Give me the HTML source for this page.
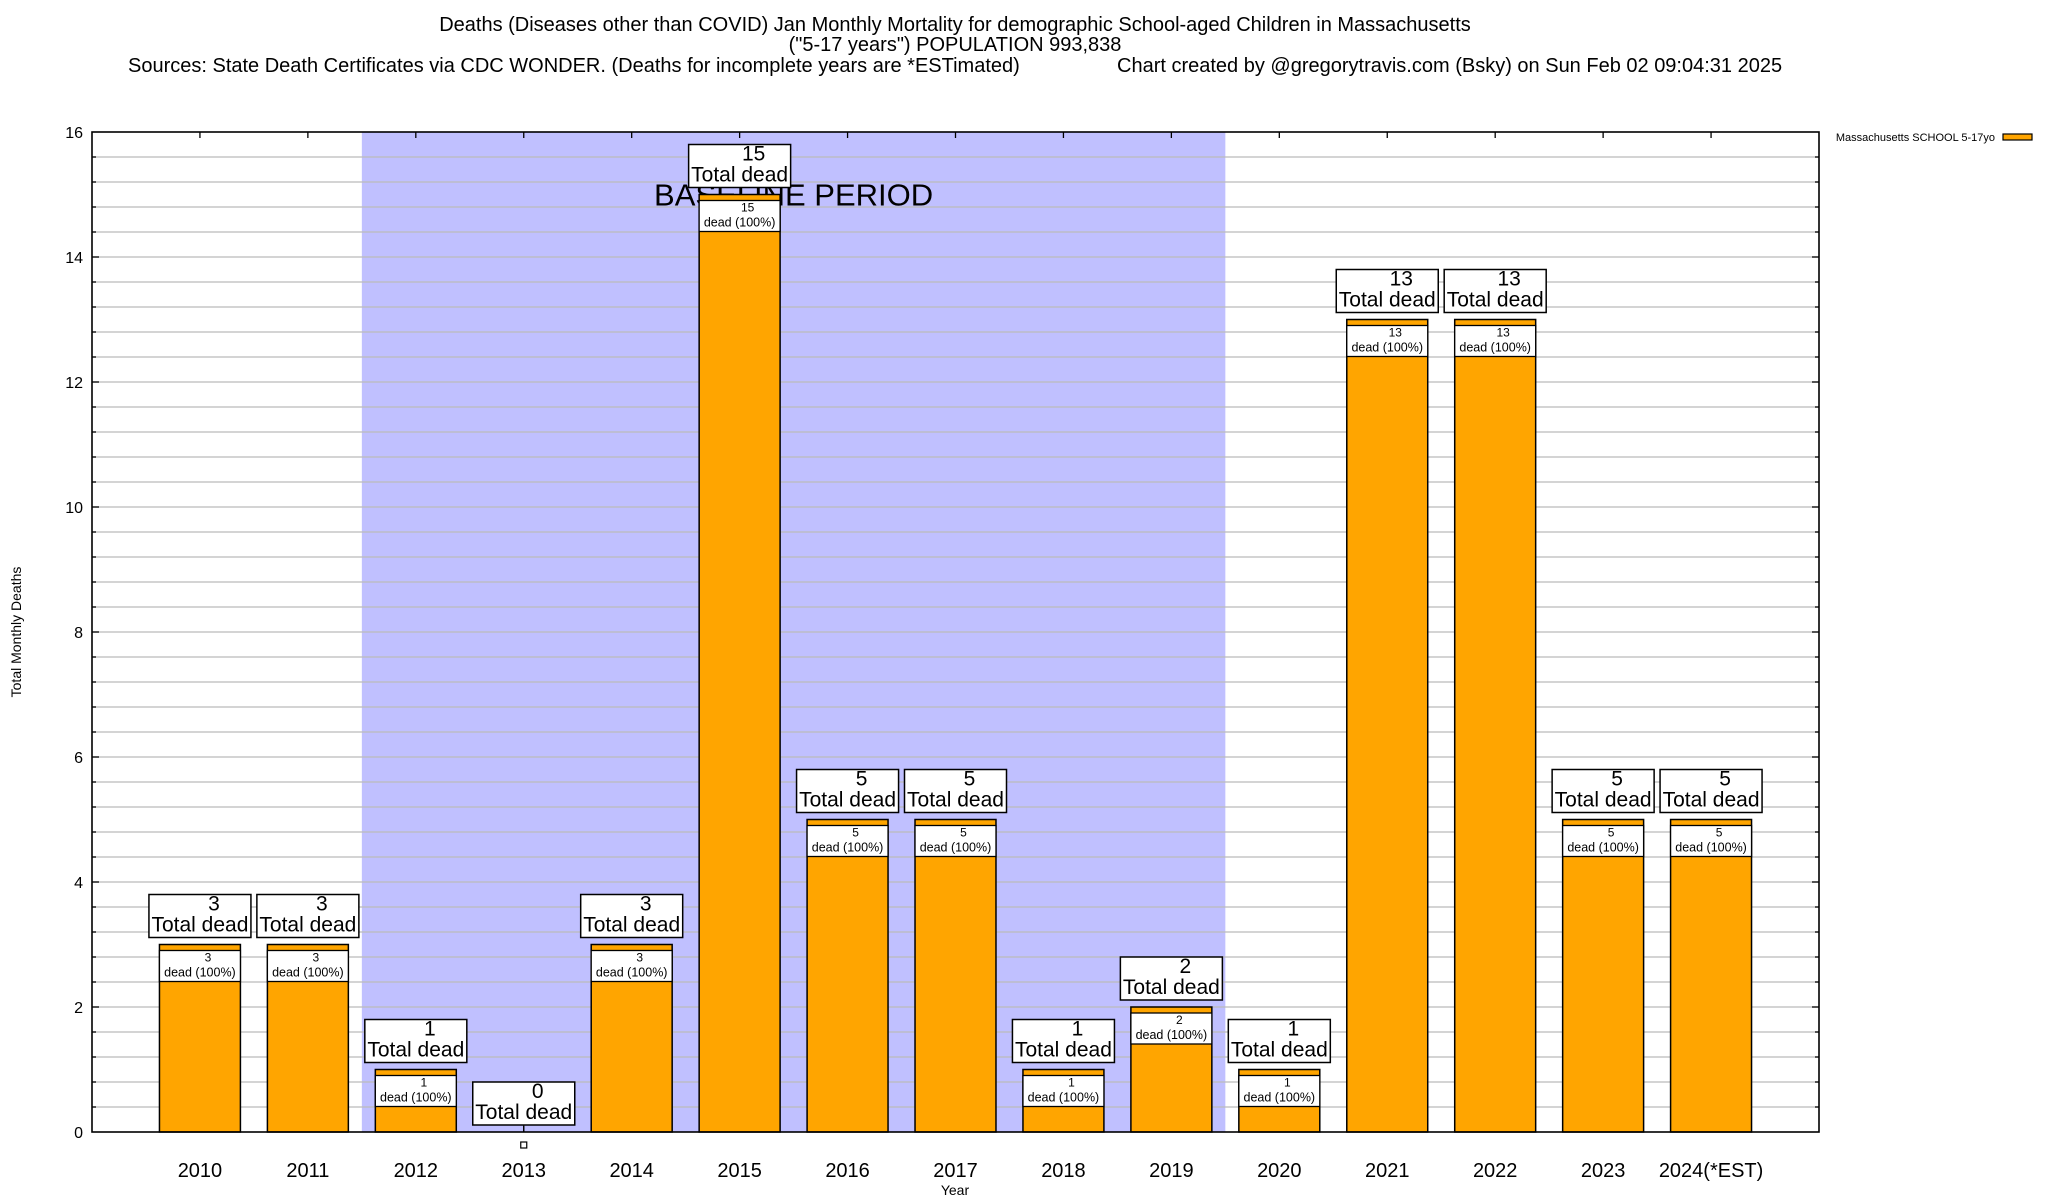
<!DOCTYPE html>
<html><head><meta charset="utf-8"><style>
html,body{margin:0;padding:0;background:#fff}
svg{display:block;font-family:"Liberation Sans",Arial,sans-serif}
</style></head><body>
<svg id="chart" width="2048" height="1200" viewBox="0 0 2048 1200">
<text x="955" y="31" font-size="20" text-anchor="middle">Deaths (Diseases other than COVID) Jan Monthly Mortality for demographic School-aged Children in Massachusetts</text>
<text x="955" y="51" font-size="20" text-anchor="middle">("5-17 years") POPULATION 993,838</text>
<text x="128" y="72" font-size="20">Sources: State Death Certificates via CDC WONDER. (Deaths for incomplete years are *ESTimated)</text>
<text x="1117" y="72" font-size="20">Chart created by @gregorytravis.com (Bsky) on Sun Feb 02 09:04:31 2025</text>
<g id="plot"></g>
<text x="1995" y="141" font-size="11" text-anchor="end">Massachusetts SCHOOL 5-17yo</text>
<rect x="2003" y="134" width="29" height="6" fill="#ffa500" stroke="#000" stroke-width="1.2"/>
<text transform="translate(21,632) rotate(-90)" font-size="14" text-anchor="middle">Total Monthly Deaths</text>
<text x="955" y="1195" font-size="14" text-anchor="middle">Year</text>
</svg>
<script>
const categories = ["2010","2011","2012","2013","2014","2015","2016","2017","2018","2019","2020","2021","2022","2023","2024(*EST)"];
const deaths = [3,3,1,0,3,15,5,5,1,2,1,13,13,5,5];
const yTicks = [0,2,4,6,8,10,12,14,16];
const baselineStart = 2.5, baselineEnd = 10.5;

const L=92,R=1819,T=132,B=1132;
const X0=0,X1=16,Y0=0,Y1=16;
const sx=v=>L+(v-X0)/(X1-X0)*(R-L);
const sy=v=>B-(v-Y0)/(Y1-Y0)*(B-T);
const NS="http://www.w3.org/2000/svg";
const g=document.getElementById('plot');
function mk(tag,attrs,parent){const e=document.createElementNS(NS,tag);for(const k in attrs)e.setAttribute(k,attrs[k]);(parent||g).appendChild(e);return e;}

// baseline region
let bl=mk('rect',{x:sx(baselineStart),y:T,width:sx(baselineEnd)-sx(baselineStart),height:B-T,fill:'#c0c0ff'});



// gridlines every 0.4
for(let k=1;k<40;k++){
  const v=k*0.4, y=sy(v);
  let gl=mk('line',{x1:L,x2:R,y1:y,y2:y,stroke:'#bbb','stroke-width':1.3});
  
  
  const len=(Math.abs(v/2-Math.round(v/2))<1e-6)?7:4;
  mk('line',{x1:L,x2:L+len,y1:y,y2:y,stroke:'#000','stroke-width':1.3});
  mk('line',{x1:R,x2:R-len,y1:y,y2:y,stroke:'#000','stroke-width':1.3});
}
// y tick labels
yTicks.forEach(v=>{
  let t=mk('text',{x:83,y:sy(v)+6,'font-size':16,'text-anchor':'end'});
  t.textContent=v;
  
  
});
// baseline label
let btx=mk('text',{x:sx(6.5),y:sy(15)+11,'font-size':31,'text-anchor':'middle'});
btx.textContent='BASELINE PERIOD';



const bw=0.75;
categories.forEach((c,i)=>{
  const xc=sx(i+1), v=deaths[i];
  // ticks top/bottom
  mk('line',{x1:xc,x2:xc,y1:T,y2:T+6,stroke:'#000','stroke-width':1.3});
  mk('line',{x1:xc,x2:xc,y1:B,y2:B-6,stroke:'#000','stroke-width':1.3});
  const w=sx(bw)-sx(0);
  const yt=sy(v);
  if(v>0){
    let bar=mk('rect',{x:xc-w/2,y:yt,width:w,height:B-yt,fill:'#ffa500',stroke:'#000','stroke-width':1.5});
    
    
    let ib=mk('rect',{x:xc-w/2,y:yt+6,width:w,height:31,fill:'#fff',stroke:'#000','stroke-width':1.3});
    
    
    let n=mk('text',{x:xc+8,y:yt+17,'font-size':12,'text-anchor':'middle'});n.textContent=v;
    
    
    let d=mk('text',{x:xc,y:yt+32,'font-size':12.5,'text-anchor':'middle'});d.textContent='dead (100%)';
    
    
  } else {
    mk('line',{x1:xc,x2:xc,y1:yt-7,y2:B,stroke:'#000','stroke-width':1.2});
    let sq=mk('rect',{x:xc-3,y:B+10,width:6,height:6,fill:'#fff',stroke:'#000','stroke-width':1.2});
    
    
  }
  // total box
  const bb=yt-7;
  let box=mk('rect',{x:xc-51,y:bb-43,width:102,height:43,fill:'#fff',stroke:'#000','stroke-width':1.5});
  
  
  let tn=mk('text',{x:xc+14,y:bb-27,'font-size':21,'text-anchor':'middle'});tn.textContent=v;
  
  
  let tt=mk('text',{x:xc,y:bb-6,'font-size':21,'text-anchor':'middle'});tt.textContent='Total dead';
  
  
  // x label
  let xl=mk('text',{x:xc,y:1177,'font-size':20,'text-anchor':'middle'});xl.textContent=c;
  
  
});
// frame
let fr=mk('rect',{x:L,y:T,width:R-L,height:B-T,fill:'none',stroke:'#000','stroke-width':1.6});


</script>
</body></html>
